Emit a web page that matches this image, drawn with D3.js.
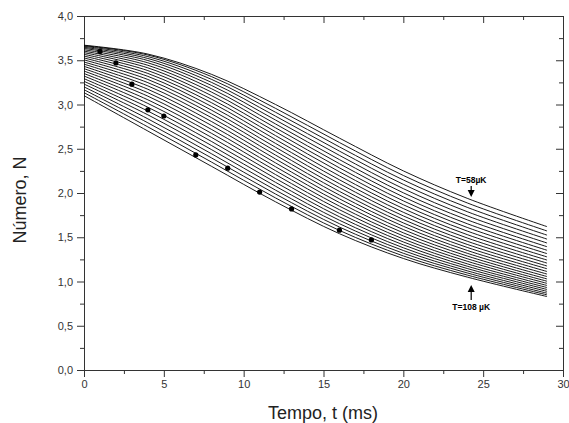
<!DOCTYPE html>
<html>
<head>
<meta charset="utf-8">
<script src="https://cdn.jsdelivr.net/npm/d3@7"></script>
<style>
  body { margin: 0; background: #fff; }
  svg { display: block; }
  .tick text { font-family: Arial, "Liberation Sans", sans-serif; font-size: 11px; fill: #333; }
  .axis path, .axis line { stroke: #333; }
</style>
</head>
<body>
<svg id="chart" width="569" height="423"></svg>
<script>
// Temperatures of the model curves (μK), top curve first
const temps = [58, 60, 62, 64, 66, 68, 70, 72, 74, 76, 78, 80, 82,
               84, 86, 88, 90, 92, 94, 96, 98, 100, 102, 104, 106, 108];

const sampleTimes = [0, 4, 8, 12, 16, 20, 24, 29];

// Number N of each curve at those times (one array per time, same order as temps)
const nAt0 = [3.670, 3.665, 3.657, 3.646, 3.634, 3.619, 3.603, 3.586, 3.567, 3.547, 3.526, 3.504, 3.480,
              3.456, 3.431, 3.405, 3.378, 3.350, 3.322, 3.292, 3.262, 3.231, 3.199, 3.167, 3.134, 3.100];
const nAt4 = [3.570, 3.559, 3.541, 3.520, 3.497, 3.471, 3.443, 3.414, 3.383, 3.351, 3.318, 3.283, 3.247,
              3.210, 3.172, 3.133, 3.094, 3.053, 3.012, 2.969, 2.926, 2.883, 2.838, 2.793, 2.747, 2.700];
const nAt8 = [3.340, 3.314, 3.283, 3.249, 3.214, 3.177, 3.139, 3.099, 3.059, 3.019, 2.977, 2.935, 2.893,
              2.850, 2.806, 2.762, 2.717, 2.673, 2.627, 2.581, 2.535, 2.489, 2.442, 2.395, 2.348, 2.300];
const nAt12 = [3.000, 2.956, 2.912, 2.868, 2.824, 2.780, 2.736, 2.692, 2.648, 2.604, 2.560, 2.516, 2.472,
               2.428, 2.384, 2.340, 2.296, 2.252, 2.208, 2.164, 2.120, 2.076, 2.032, 1.988, 1.944, 1.900];
const nAt16 = [2.620, 2.570, 2.521, 2.473, 2.425, 2.377, 2.331, 2.284, 2.239, 2.193, 2.149, 2.105, 2.061,
               2.018, 1.976, 1.934, 1.892, 1.851, 1.811, 1.770, 1.731, 1.692, 1.653, 1.615, 1.577, 1.540];
const nAt20 = [2.250, 2.198, 2.147, 2.098, 2.049, 2.002, 1.956, 1.911, 1.867, 1.824, 1.782, 1.741, 1.701,
               1.662, 1.624, 1.587, 1.550, 1.515, 1.480, 1.447, 1.414, 1.381, 1.350, 1.319, 1.289, 1.260];
const nAt24 = [1.940, 1.888, 1.838, 1.789, 1.742, 1.697, 1.653, 1.611, 1.570, 1.530, 1.492, 1.455, 1.419,
               1.385, 1.351, 1.319, 1.288, 1.258, 1.229, 1.200, 1.173, 1.147, 1.121, 1.097, 1.073, 1.050];
const nAt29 = [1.620, 1.571, 1.524, 1.479, 1.435, 1.393, 1.353, 1.315, 1.278, 1.242, 1.208, 1.175, 1.144,
               1.113, 1.084, 1.056, 1.029, 1.003, 0.979, 0.955, 0.932, 0.910, 0.889, 0.868, 0.849, 0.830];

// Measured points
const measTimes = [1, 2, 3, 4, 5, 7, 9, 11, 13, 16, 18];
const measN = [3.60, 3.47, 3.23, 2.94, 2.87, 2.43, 2.28, 2.01, 1.82, 1.58, 1.47];

// Axis ticks
const xTicks = [0, 5, 10, 15, 20, 25, 30];
const xMinor = [2.5, 7.5, 12.5, 17.5, 22.5, 27.5];
const yTicks = [0, 0.5, 1, 1.5, 2, 2.5, 3, 3.5, 4];
const yMinor = [0.25, 0.75, 1.25, 1.75, 2.25, 2.75, 3.25, 3.75];

const columns = [nAt0, nAt4, nAt8, nAt12, nAt16, nAt20, nAt24, nAt29];

const svg = d3.select('#chart');
const plotLeft = 84, plotRight = 563, plotTop = 16, plotBottom = 370;

const x = d3.scaleLinear().domain([0, 30]).range([plotLeft, plotRight]);
const y = d3.scaleLinear().domain([0, 4]).range([plotBottom, plotTop]);

const fmtY = d => d3.format('.1f')(d).replace('.', ',');

// minor ticks
svg.append('g').attr('class', 'axis')
    .attr('transform', `translate(0,${plotBottom})`)
    .call(d3.axisBottom(x).tickValues(xMinor).tickSize(4).tickFormat(''))
    .call(g => g.select('.domain').remove());
svg.append('g').attr('class', 'axis')
    .attr('transform', `translate(${plotLeft},0)`)
    .call(d3.axisLeft(y).tickValues(yMinor).tickSize(4).tickFormat(''))
    .call(g => g.select('.domain').remove());
svg.append('g').attr('class', 'axis')
    .attr('transform', `translate(0,${plotTop})`)
    .call(d3.axisTop(x).tickValues(xMinor).tickSize(-4).tickFormat(''))
    .call(g => g.select('.domain').remove());
svg.append('g').attr('class', 'axis')
    .attr('transform', `translate(${plotRight},0)`)
    .call(d3.axisRight(y).tickValues(yMinor).tickSize(-4).tickFormat(''))
    .call(g => g.select('.domain').remove());

// major ticks + labels
svg.append('g').attr('class', 'axis')
    .attr('transform', `translate(0,${plotBottom})`)
    .call(d3.axisBottom(x).tickValues(xTicks).tickSize(7).tickSizeOuter(0).tickPadding(3));
svg.append('g').attr('class', 'axis')
    .attr('transform', `translate(${plotLeft},0)`)
    .call(d3.axisLeft(y).tickValues(yTicks).tickSize(7).tickSizeOuter(0).tickPadding(4).tickFormat(fmtY));
svg.append('g').attr('class', 'axis')
    .attr('transform', `translate(0,${plotTop})`)
    .call(d3.axisTop(x).tickValues(xTicks).tickSize(-7).tickSizeOuter(0).tickFormat(''));
svg.append('g').attr('class', 'axis')
    .attr('transform', `translate(${plotRight},0)`)
    .call(d3.axisRight(y).tickValues(yTicks).tickSize(-7).tickSizeOuter(0).tickFormat(''));

// model curves
const line = d3.line()
    .x(d => x(d[0]))
    .y(d => y(d[1]))
    .curve(d3.curveCatmullRom.alpha(0.5));

const curves = temps.map((T, i) => sampleTimes.map((t, j) => [t, columns[j][i]]));

svg.append('g')
    .selectAll('path')
    .data(curves)
    .join('path')
    .attr('d', line)
    .attr('fill', 'none')
    .attr('stroke', '#000')
    .attr('stroke-width', 0.9);

// measured points
svg.append('g')
    .selectAll('circle')
    .data(measTimes.map((t, i) => [t, measN[i]]))
    .join('circle')
    .attr('cx', d => x(d[0]))
    .attr('cy', d => y(d[1]))
    .attr('r', 2.6)
    .attr('fill', '#000');

// annotations
const ann = svg.append('g')
    .attr('font-family', 'Arial, "Liberation Sans", sans-serif')
    .attr('font-size', 8.5)
    .attr('font-weight', 'bold')
    .attr('text-anchor', 'middle');

const ax = x(24.25);
ann.append('text').attr('x', ax).attr('y', 183).text('T=58\u00b5K');
ann.append('line').attr('x1', ax).attr('x2', ax).attr('y1', 186).attr('y2', 192)
    .attr('stroke', '#000').attr('stroke-width', 1.2);
ann.append('path').attr('d', `M${ax - 3.5},190 L${ax + 3.5},190 L${ax},197 Z`).attr('fill', '#000');

ann.append('text').attr('x', ax).attr('y', 310).text('T=108 \u00b5K');
ann.append('line').attr('x1', ax).attr('x2', ax).attr('y1', 291).attr('y2', 300)
    .attr('stroke', '#000').attr('stroke-width', 1.2);
ann.append('path').attr('d', `M${ax - 3.5},292 L${ax + 3.5},292 L${ax},285 Z`).attr('fill', '#000');

// axis titles
svg.append('text')
    .attr('x', 323).attr('y', 419)
    .attr('text-anchor', 'middle')
    .attr('font-family', 'Arial, "Liberation Sans", sans-serif')
    .attr('font-size', 18)
    .attr('fill', '#222')
    .text('Tempo, t (ms)');

svg.append('text')
    .attr('transform', `translate(26,${(plotTop + plotBottom) / 2 + 7}) rotate(-90)`)
    .attr('text-anchor', 'middle')
    .attr('font-family', 'Arial, "Liberation Sans", sans-serif')
    .attr('font-size', 18)
    .attr('fill', '#222')
    .text('Número, N');
</script>
</body>
</html>
